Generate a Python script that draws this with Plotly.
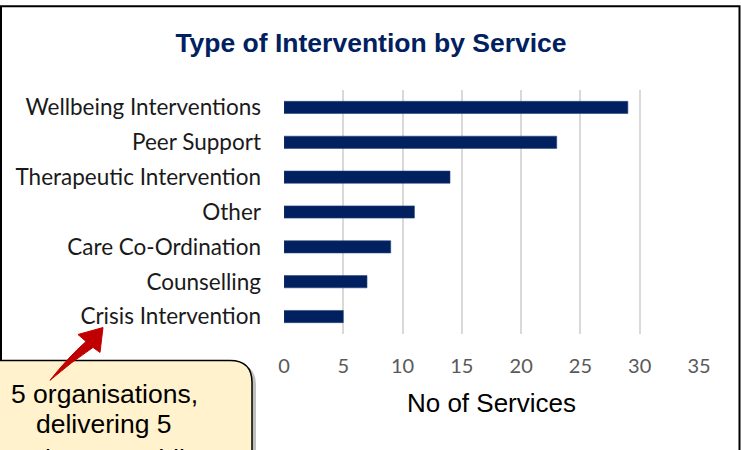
import plotly.graph_objects as go

categories = ["Wellbeing Interventions", "Peer Support", "Therapeutic Intervention",
              "Other", "Care Co-Ordination", "Counselling", "Crisis Intervention"]
values = [29, 23, 14, 11, 9, 7, 5]
x_ticks = [0, 5, 10, 15, 20, 25, 30, 35]
callout_lines = ["5 organisations,", "delivering 5", "services, providing"]

W, H = 741, 450
L, R, T, B = 284, 42, 89.5, 115.5
PW, PH = W - L - R, H - T - B

def px(x):
    return (x - L) / PW

def py(y):
    return (H - B - y) / PH

fig = go.Figure()
fig.add_trace(go.Bar(
    y=categories[::-1], x=values[::-1], orientation="h",
    marker=dict(color="#002060", line=dict(color="#2a4478", width=0.6)),
))

shapes = []
# outer chart border
shapes.append(dict(type="rect", xref="paper", yref="paper",
                   x0=px(1), x1=px(739.5), y0=py(480), y1=py(5.5),
                   line=dict(color="black", width=2), layer="below"))

def rounded(x0, y0, x1, y1, r):
    return (f"M {px(x0+r)} {py(y0)} L {px(x1-r)} {py(y0)} "
            f"Q {px(x1)} {py(y0)} {px(x1)} {py(y0+r)} "
            f"L {px(x1)} {py(y1-r)} Q {px(x1)} {py(y1)} {px(x1-r)} {py(y1)} "
            f"L {px(x0+r)} {py(y1)} Q {px(x0)} {py(y1)} {px(x0)} {py(y1-r)} "
            f"L {px(x0)} {py(y0+r)} Q {px(x0)} {py(y0)} {px(x0+r)} {py(y0)} Z")

# shadow
shapes.append(dict(type="path", xref="paper", yref="paper",
                   path=rounded(-40, 364, 256, 520, 22),
                   fillcolor="rgba(0,0,0,0.25)", line=dict(width=0)))
# callout box
shapes.append(dict(type="path", xref="paper", yref="paper",
                   path=rounded(-40, 361, 252, 520, 22),
                   fillcolor="#FFF2CC", line=dict(color="black", width=1.5)))
# arrow
arrow = (f"M {px(50)} {py(381)} "
         f"Q {px(68)} {py(358)} {px(86)} {py(342)} "
         f"L {px(78)} {py(335)} L {px(103)} {py(328)} L {px(100)} {py(353)} "
         f"L {px(93)} {py(348)} "
         f"Q {px(72)} {py(362)} {px(50)} {py(381)} Z")
shapes.append(dict(type="path", xref="paper", yref="paper", path=arrow,
                   fillcolor="#C00000", line=dict(color="#C00000", width=1)))

annotations = []
line_y = [395, 425, 460]
for line, yy in zip(callout_lines, line_y):
    annotations.append(dict(
        xref="paper", yref="paper", x=px(104), y=py(yy),
        xanchor="center", yanchor="middle",
        text=line, showarrow=False, align="center",
        font=dict(family="Liberation Sans, Arial", size=26.5, color="black"),
    ))

fig.update_layout(
    width=W, height=H,
    margin=dict(l=L, r=R, t=T, b=B),
    paper_bgcolor="white", plot_bgcolor="white",
    showlegend=False,
    bargap=0.65,
    title=dict(text="<b>Type of Intervention by Service</b>", x=371 / W, xref="container",
               xanchor="center", y=1 - 43 / H, yanchor="middle",
               font=dict(family="Liberation Sans, Arial", size=26.5, color="#002060")),
    shapes=shapes,
    annotations=annotations,
)
fig.update_xaxes(range=[0, 35], tickvals=x_ticks, showgrid=True, gridcolor="#D9D9D9",
                 gridwidth=2, zeroline=False, showline=False, ticks="",
                 tickfont=dict(family="Lato, Open Sans", size=20, color="#595959"),
                 ticklabelstandoff=18,
                 title=dict(text="No of Services", standoff=17,
                            font=dict(family="Liberation Sans, Arial", size=26, color="black")))
fig.update_yaxes(showgrid=False, zeroline=False, showline=False, ticks="",
                 ticklabelstandoff=22,
                 tickfont=dict(family="Lato, Open Sans", size=22.5, color="#1a1a1a"))

fig.write_html("out.html", config={"displayModeBar": False},
               post_script="document.body.style.margin='0';document.body.style.overflow='hidden';")
